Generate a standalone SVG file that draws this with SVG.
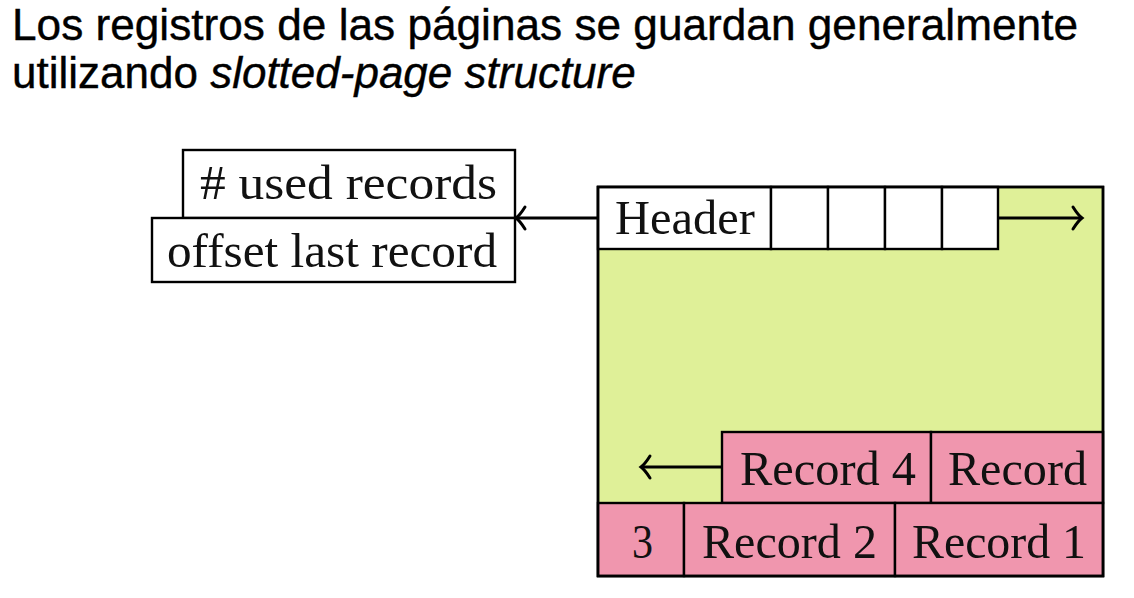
<svg xmlns="http://www.w3.org/2000/svg" width="1134" height="598" viewBox="0 0 1134 598">
<style>
.t{font-family:"Liberation Sans",Arial,sans-serif;font-size:44px;fill:#000;stroke:#000;stroke-width:0.4}
.l{font-family:"Liberation Serif","Times New Roman",serif;font-size:49px;fill:#111}
.box{stroke:#000;stroke-width:2.4}
.w{fill:#fff}
.p{fill:#f096ae}
.g{fill:#dff098}
.ln{stroke:#000;stroke-width:3;fill:none}
.ah{stroke:#000;stroke-width:3;fill:none;stroke-linecap:round}
</style>
<rect width="1134" height="598" fill="#fff"/>
<g id="title">
<text class="t" x="12" y="40" textLength="1066" lengthAdjust="spacingAndGlyphs">Los registros de las páginas se guardan generalmente</text>
<text class="t" x="12" y="88">utilizando <tspan font-style="italic">slotted-page structure</tspan></text>
</g>
<g id="page">
<rect class="box g" x="598" y="187" width="505" height="389"/>
</g>
<g id="used-records">
<rect class="box w" x="183" y="150" width="332" height="68"/>
<text class="l" x="200" y="199" textLength="297" lengthAdjust="spacingAndGlyphs"># used records</text>
</g>
<g id="offset-last-record">
<rect class="box w" x="152" y="218" width="363" height="64"/>
<text class="l" x="167" y="267" textLength="330" lengthAdjust="spacingAndGlyphs">offset last record</text>
</g>
<g id="header">
<rect class="box w" x="598" y="187" width="173" height="62"/>
<text class="l" x="615" y="234" textLength="140" lengthAdjust="spacingAndGlyphs">Header</text>
</g>
<g id="slot1"><rect class="box w" x="771" y="187" width="57" height="62"/></g>
<g id="slot2"><rect class="box w" x="828" y="187" width="57" height="62"/></g>
<g id="slot3"><rect class="box w" x="885" y="187" width="57" height="62"/></g>
<g id="slot4"><rect class="box w" x="942" y="187" width="56" height="62"/></g>
<g id="record4">
<rect class="box p" x="722" y="432" width="209" height="71"/>
<text class="l" x="740" y="485" textLength="176" lengthAdjust="spacingAndGlyphs">Record 4</text>
</g>
<g id="record3">
<rect class="box p" x="931" y="432" width="172" height="71"/>
<text class="l" x="948" y="485" textLength="139" lengthAdjust="spacingAndGlyphs">Record</text>
</g>
<g id="record3-cont">
<rect class="box p" x="598" y="503" width="86" height="73"/>
<text class="l" x="632" y="558" textLength="21" lengthAdjust="spacingAndGlyphs">3</text>
</g>
<g id="record2">
<rect class="box p" x="684" y="503" width="211" height="73"/>
<text class="l" x="702" y="558" textLength="175" lengthAdjust="spacingAndGlyphs">Record 2</text>
</g>
<g id="record1">
<rect class="box p" x="895" y="503" width="208" height="73"/>
<text class="l" x="912" y="558" textLength="174" lengthAdjust="spacingAndGlyphs">Record 1</text>
</g>
<g id="outline">
<rect x="598" y="187" width="505" height="389" fill="none" stroke="#000" stroke-width="2.6"/>
</g>
<g id="connectors">
<line class="ln" x1="598" y1="218" x2="517" y2="218"/>
<path class="ah" d="M525,207 Q520,215 516,218 Q520,221 525,229"/>
<line class="ln" x1="998" y1="218" x2="1080" y2="218"/>
<path class="ah" d="M1073,207 Q1078,215 1082,218 Q1078,221 1073,229"/>
<line class="ln" x1="722" y1="467" x2="642" y2="467"/>
<path class="ah" d="M650,456 Q645,464 641,467 Q645,470 650,478"/>
</g>
</svg>
